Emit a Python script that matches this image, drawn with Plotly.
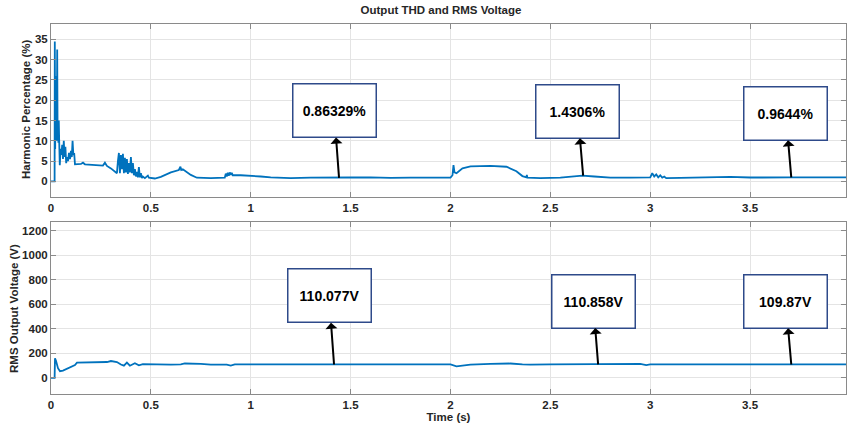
import plotly.graph_objects as go

# THD trace (time in s, harmonic percentage in %)
t_thd = [0, 0.018, 0.019, 0.021, 0.023, 0.025, 0.027, 0.029, 0.031, 0.033, 0.035,
         0.037, 0.039, 0.041, 0.044, 0.048, 0.052, 0.056, 0.060, 0.064, 0.068,
         0.072, 0.076, 0.080, 0.085, 0.090, 0.095, 0.100, 0.104, 0.108, 0.112,
         0.116, 0.120, 0.15, 0.16, 0.17, 0.22, 0.26, 0.27, 0.28, 0.30, 0.32,
         0.33, 0.335, 0.34, 0.345, 0.35, 0.355, 0.36, 0.365, 0.37, 0.375, 0.38,
         0.385, 0.39, 0.395, 0.40, 0.405, 0.41, 0.415, 0.42, 0.425, 0.43, 0.435,
         0.44, 0.445, 0.45, 0.455, 0.46, 0.47, 0.485, 0.49, 0.52, 0.55, 0.60,
         0.64, 0.648, 0.652, 0.66, 0.70, 0.73, 0.80, 0.87, 0.875, 0.88, 0.885,
         0.89, 0.895, 0.90, 0.905, 0.91, 0.95, 1.0, 1.05, 1.1, 1.2, 1.3, 1.4,
         1.5, 1.6, 1.7, 1.8, 1.9, 2.0, 2.01, 2.015, 2.02, 2.03, 2.06, 2.1, 2.2,
         2.28, 2.33, 2.36, 2.38, 2.382, 2.385, 2.45, 2.55, 2.6, 2.66, 2.72, 2.8,
         2.9, 3.0, 3.01, 3.02, 3.03, 3.04, 3.05, 3.06, 3.07, 3.08, 3.15, 3.3,
         3.4, 3.5, 3.6, 3.7, 3.8, 3.98]
thd = [0, 0, 34.5, 8, 26, 12, 22, 10, 32.5, 12, 15,
       9.5, 15, 10, 4, 8, 6.5, 9, 5.5, 10, 6,
       8.5, 4.5, 6, 5, 7, 5.5, 7.5, 6, 10, 6.5,
       7, 4.2, 4.3, 4.6, 4.2, 4.1, 3.9, 4.6, 3.8, 3.2, 2.5,
       2, 5, 7, 2, 6.5, 3, 6.8, 2, 5.8, 2.2, 5.5,
       1.8, 4.5, 2.2, 6, 2, 4.5, 1.5, 3, 1.2, 2.3, 1,
       3.5, 1, 2, 0.8, 1.2, 0.8, 1.4, 0.9, 0.7, 1.1, 2.2,
       2.8, 3.6, 2.8, 3, 1.6, 0.9, 0.8, 0.9, 1.9, 1.2, 2.1,
       1.4, 2.2, 1.6, 2.1, 1.5, 1.5, 1.4, 1.2, 1.0, 0.8, 0.9, 0.85,
       0.95, 1.0, 0.85, 0.9, 0.9, 0.9, 1.5, 4.0, 2.2, 2.0, 3.2, 3.7, 3.8,
       3.6, 2.5, 1.3, 1.0, 1.6, 0.9, 0.8, 0.9, 1.2, 1.43, 1.2, 0.9,
       0.9, 1.0, 2.0, 1.2, 1.7, 1.0, 1.5, 0.9, 1.2, 0.8, 0.85, 1.0,
       1.1, 0.95, 0.9, 0.96, 1.0, 1.0]

# RMS output voltage trace (time in s, volts)
t_rms = [0, 0.018, 0.02, 0.025, 0.035, 0.045, 0.06, 0.08, 0.1, 0.12, 0.13,
         0.16, 0.2, 0.25, 0.28, 0.3, 0.33, 0.35, 0.365, 0.38, 0.395, 0.42,
         0.44, 0.46, 0.5, 0.6, 0.65, 0.67, 0.75, 0.8, 0.88, 0.9, 0.92, 1.0,
         1.5, 2.0, 2.03, 2.1, 2.2, 2.3, 2.36, 2.4, 2.5, 2.9, 2.95, 2.98, 3.0,
         3.5, 3.98]
rms = [0, 0, 160, 140, 80, 55, 60, 75, 90, 105, 125,
       125, 130, 128, 130, 138, 130, 110, 100, 125, 100, 120,
       103, 112, 110, 108, 110, 118, 115, 108, 108, 100, 110, 110,
       110, 110, 95, 108, 115, 118, 110, 108, 110, 110, 115, 105, 110,
       110, 110]

# Marked readings
thd_mark_t = [1.442, 2.664, 3.706]
thd_mark = [0.86329, 1.4306, 0.9644]
rms_mark_t = [1.417, 2.739, 3.706]
rms_mark = [110.077, 110.858, 109.87]

x_ticks = [0, 0.5, 1, 1.5, 2, 2.5, 3, 3.5]
x_tick_text = ["0", "0.5", "1", "1.5", "2", "2.5", "3", "3.5"]
thd_ticks = [0, 5, 10, 15, 20, 25, 30, 35]
rms_ticks = [0, 200, 400, 600, 800, 1000, 1200]

BLUE = "#0072BD"
FONT = "Liberation Sans"
TXT = "#262626"

fig = go.Figure()
fig.add_trace(go.Scatter(x=t_thd, y=thd, mode="lines", xaxis="x", yaxis="y",
                         line=dict(color=BLUE, width=1.8), showlegend=False))
fig.add_trace(go.Scatter(x=t_rms, y=rms, mode="lines", xaxis="x2", yaxis="y2",
                         line=dict(color=BLUE, width=1.8), showlegend=False))

axis_common = dict(
    showline=True, linecolor="#8A8A8A", linewidth=1, mirror="ticks",
    ticks="inside", ticklen=5, tickcolor="#8A8A8A",
    showgrid=True, gridcolor="#E4E4E4", gridwidth=1, zeroline=False,
    tickfont=dict(family=FONT, size=11.5, color=TXT, weight="bold"),
)
title_font = dict(family=FONT, size=11.5, color=TXT, weight="bold")

fig.update_layout(
    width=848, height=431,
    margin=dict(l=51, r=2, t=24, b=37),
    paper_bgcolor="white", plot_bgcolor="white",
    title=dict(text="Output THD and RMS Voltage", x=0.52, xanchor="center",
               y=1 - 10 / 431, yanchor="middle", yref="container",
               font=dict(family=FONT, size=11.5, color=TXT, weight="bold")),
    xaxis=dict(axis_common, range=[0, 3.98], anchor="y",
               tickvals=x_ticks, ticktext=x_tick_text, domain=[0, 1]),
    yaxis=dict(axis_common, range=[-3.9, 38.8], domain=[0.532, 1], anchor="x",
               tickvals=thd_ticks),
    xaxis2=dict(axis_common, range=[0, 3.98], anchor="y2",
                tickvals=x_ticks, ticktext=x_tick_text, domain=[0, 1],
                title=dict(text="Time (s)", standoff=3, font=title_font)),
    yaxis2=dict(axis_common, range=[-131, 1273], domain=[0, 0.465], anchor="x2",
                tickvals=rms_ticks),
)

# Vertical axis titles placed as rotated annotations
fig.add_annotation(text="Harmonic Percentage (%)", textangle=-90, showarrow=False,
                   xref="paper", yref="paper", x=-25 / 795, y=(394 - 110) / 370,
                   xanchor="center", yanchor="middle", font=title_font)
fig.add_annotation(text="RMS Output Voltage (V)", textangle=-90, showarrow=False,
                   xref="paper", yref="paper", x=-37 / 795, y=(394 - 309) / 370,
                   xanchor="center", yanchor="middle", font=title_font)

# Callout boxes with arrows pointing from the trace up to each box
box_style = dict(
    showarrow=True, arrowside="start", arrowhead=2, arrowsize=1, arrowwidth=2,
    arrowcolor="black", axref="pixel", ayref="pixel",
    bgcolor="white", bordercolor="#2E4A8A", borderwidth=1.5, borderpad=1,
    width=80, height=50,
    font=dict(family=FONT, size=14, color="black", weight="bold"),
)
thd_offsets = [(-5, -67), (-5.5, -64), (-5.5, -64)]
rms_offsets = [(-5, -68.5), (-5, -63), (-5.5, -63)]

for tx, v, (ox, oy) in zip(thd_mark_t, thd_mark, thd_offsets):
    fig.add_annotation(box_style, x=tx, y=v, xref="x", yref="y",
                       ax=ox, ay=oy, text=f"{v}%")
for tx, v, (ox, oy) in zip(rms_mark_t, rms_mark, rms_offsets):
    fig.add_annotation(box_style, x=tx, y=v, xref="x2", yref="y2",
                       ax=ox, ay=oy, text=f"{v}V")

fig.write_html("out.html")
